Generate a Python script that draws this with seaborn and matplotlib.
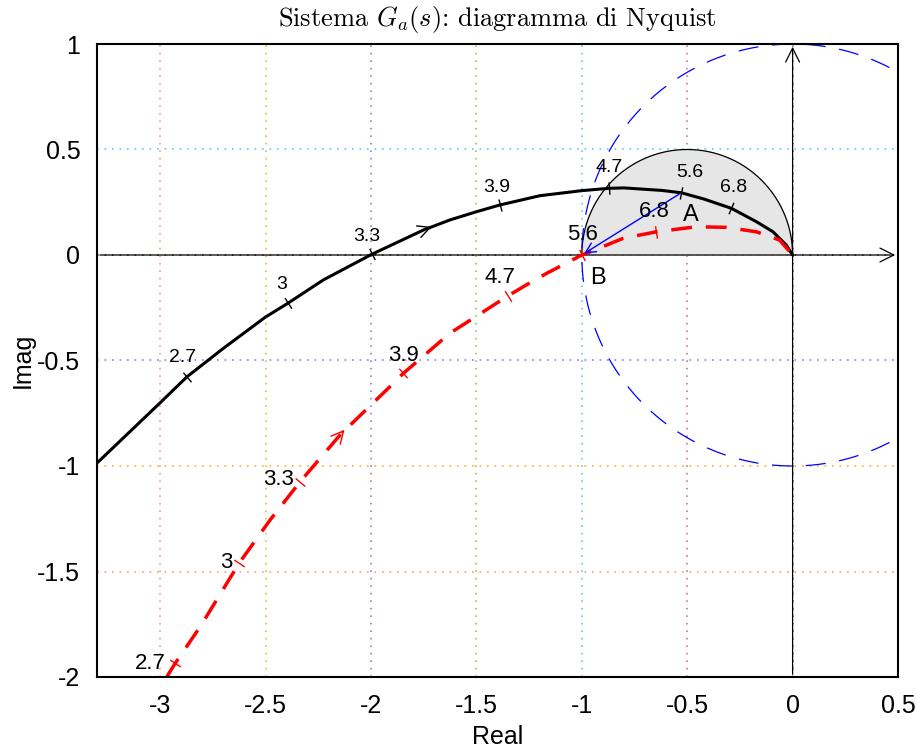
import numpy as np
import pandas as pd
import matplotlib
matplotlib.use('Agg')
import matplotlib.pyplot as plt
import seaborn as sns

# punti (parte reale, parte immaginaria)
nero_re = [-3.30, -3.0, -2.873, -2.70, -2.502, -2.395, -2.226, -1.997, -1.752, -1.626, -1.50, -1.389, -1.199,
           -1.00, -0.872, -0.80, -0.725, -0.62, -0.528, -0.42, -0.29, -0.172, -0.093, -0.03, 0.0]
nero_im = [-0.986, -0.700, -0.577, -0.442, -0.295, -0.229, -0.118, 0.003, 0.118, 0.166, 0.205, 0.237, 0.281,
           0.305, 0.316, 0.318, 0.313, 0.306, 0.295, 0.265, 0.221, 0.158, 0.110, 0.047, 0.0]
rosso_re = [-2.968, -2.929, -2.81, -2.624, -2.479, -2.336, -2.147, -1.894, -1.847, -1.626, -1.50, -1.351, -1.26,
            -1.167, -1.0, -0.978, -0.804, -0.646, -0.456, -0.314, -0.172, -0.062, 0.0]
rosso_im = [-1.998, -1.935, -1.761, -1.458, -1.256, -1.074, -0.853, -0.608, -0.561, -0.371, -0.29, -0.194, -0.14,
            -0.087, 0.0, 0.008, 0.079, 0.110, 0.134, 0.131, 0.110, 0.071, 0.0]

# pulsazioni marcate sulle curve
nero_w = ['2.7', '3', '3.3', '3.9', '4.7', '5.6', '6.8']
nero_w_re = [-2.873, -2.395, -1.997, -1.389, -0.872, -0.528, -0.29]
nero_w_im = [-0.577, -0.229, 0.003, 0.237, 0.316, 0.295, 0.221]
nero_lab_re = [-2.896, -2.422, -2.019, -1.403, -0.872, -0.488, -0.28]
nero_lab_im = [-0.488, -0.142, 0.09, 0.322, 0.417, 0.393, 0.318]
rosso_w = ['2.7', '3', '3.3', '3.9', '4.7', '5.6', '6.8']
rosso_w_re = [-2.929, -2.624, -2.336, -1.847, -1.351, -1.0, -0.646]
rosso_w_im = [-1.935, -1.458, -1.074, -0.561, -0.194, 0.0, 0.110]
rosso_lab_re = [-3.047, -2.687, -2.441, -1.848, -1.389, -0.995, -0.654]
rosso_lab_im = [-1.938, -1.455, -1.066, -0.474, -0.109, 0.095, 0.204]

xticks = [-3, -2.5, -2, -1.5, -1, -0.5, 0, 0.5]
yticks = [-2, -1.5, -1, -0.5, 0, 0.5, 1]
col_x = ['#f0a080', '#f5b820', '#a878c8', '#98c858', '#60c8f0', '#c87880', '#808080', '#905030']
col_y = ['#904020', '#f0a080', '#f5b820', '#a878c8', '#785030', '#60c8f0', '#804040']

sns.set_style('white')
plt.rcParams['font.family'] = ['Liberation Sans', 'DejaVu Sans']
plt.rcParams['axes.unicode_minus'] = False
plt.rcParams['mathtext.fontset'] = 'cm'
plt.rcParams['text.color'] = 'black'
plt.rcParams['axes.labelcolor'] = 'black'
plt.rcParams['xtick.color'] = 'black'
plt.rcParams['ytick.color'] = 'black'

fig = plt.figure(figsize=(9.17, 7.5), dpi=100)
ax = fig.add_axes([97/917, 1-677/750, (898-97)/917, (677-44)/750])

# griglia colorata
for xv, c in zip(xticks, col_x):
    ax.axvline(xv, color=c, ls=(0, (1, 3.5)), lw=1.2, zorder=1)
for yv, c in zip(yticks, col_y):
    ax.axhline(yv, color=c, ls=(0, (1, 3.5)), lw=1.2, zorder=1)

# semicerchio grigio
t = np.linspace(0, np.pi, 200)
ax.fill(-0.5 + 0.5*np.cos(t), 0.5*np.sin(t), color='#e6e6e6', zorder=2)
ax.plot(-0.5 + 0.5*np.cos(t), 0.5*np.sin(t), color='black', lw=0.9, zorder=3)

# cerchio unitario
t2 = np.linspace(0, 2*np.pi, 400)
ax.plot(np.cos(t2), np.sin(t2), color='blue', lw=0.9, ls=(0, (16, 11)), zorder=3)

# assi con freccia
ax.annotate('', xy=(0.5, 0), xytext=(-3.3, 0),
            arrowprops=dict(arrowstyle='->', color='black', lw=0.9, mutation_scale=25), zorder=3)
ax.annotate('', xy=(0, 1), xytext=(0, -2),
            arrowprops=dict(arrowstyle='->', color='black', lw=0.9, mutation_scale=25), zorder=3)

df_n = pd.DataFrame({'re': nero_re, 'im': nero_im})
df_r = pd.DataFrame({'re': rosso_re, 'im': rosso_im})
sns.lineplot(data=df_n, x='re', y='im', sort=False, color='black', lw=2.2, ax=ax, zorder=5)
sns.lineplot(data=df_r, x='re', y='im', sort=False, color='red', lw=2.5, ax=ax, zorder=5,
             dashes=False, linestyle=(0, (6, 4)))

# vettore blu
ax.annotate('', xy=(-1, 0), xytext=(-0.528, 0.295),
            arrowprops=dict(arrowstyle='->', color='blue', lw=1.0, mutation_scale=18), zorder=6)

def tacche(cx, cy, px, py, col, lab, lx, ly, fs):
    cx = np.array(cx); cy = np.array(cy)
    for p, q, s, a, b in zip(px, py, lab, lx, ly):
        i = np.argmin((cx-p)**2 + (cy-q)**2)
        i0, i1 = max(i-1, 0), min(i+1, len(cx)-1)
        ang = np.degrees(np.arctan2(cy[i1]-cy[i0], cx[i1]-cx[i0]))
        ax.plot(p, q, marker=(2, 0, ang), ms=9, mew=1.0, color=col, zorder=6)
        ax.text(a, b, s, fontsize=fs, ha='center', va='center', zorder=7)

tacche(nero_re, nero_im, nero_w_re, nero_w_im, 'black', nero_w, nero_lab_re, nero_lab_im, 14)
tacche(rosso_re, rosso_im, rosso_w_re, rosso_w_im, 'red', rosso_w, rosso_lab_re, rosso_lab_im, 16)

# frecce di direzione
ax.annotate('', xy=(-1.70, 0.138), xytext=(-1.754, 0.118),
            arrowprops=dict(arrowstyle='->', color='black', lw=1.0, mutation_scale=22), zorder=6)
ax.annotate('', xy=(-2.117, -0.818), xytext=(-2.147, -0.853),
            arrowprops=dict(arrowstyle='->', color='red', lw=1.0, mutation_scale=22), zorder=6)

ax.text(-0.483, 0.19, 'A', fontsize=17, ha='center', va='center', zorder=7)
ax.text(-0.924, -0.109, 'B', fontsize=17, ha='center', va='center', zorder=7)

ax.set_xlim(-3.3, 0.5)
ax.set_ylim(-2, 1)
ax.set_xticks(xticks)
ax.set_yticks(yticks)
ax.set_xticklabels(['-3', '-2.5', '-2', '-1.5', '-1', '-0.5', '0', '0.5'])
ax.set_yticklabels(['-2', '-1.5', '-1', '-0.5', '0', '0.5', '1'])
ax.tick_params(direction='in', length=6, width=1, labelsize=18, pad=12)
ax.set_xlabel('Real', fontsize=18, labelpad=5)
ax.set_ylabel('Imag', fontsize=18, labelpad=2)
ax.set_title(r'Sistema $G_a(s)$: diagramma di Nyquist', fontsize=19, family='cmr10', pad=13)
for s in ax.spines.values():
    s.set_color('black')
    s.set_linewidth(1.5)
    s.set_zorder(8)

fig.savefig('out.png', dpi=100)
